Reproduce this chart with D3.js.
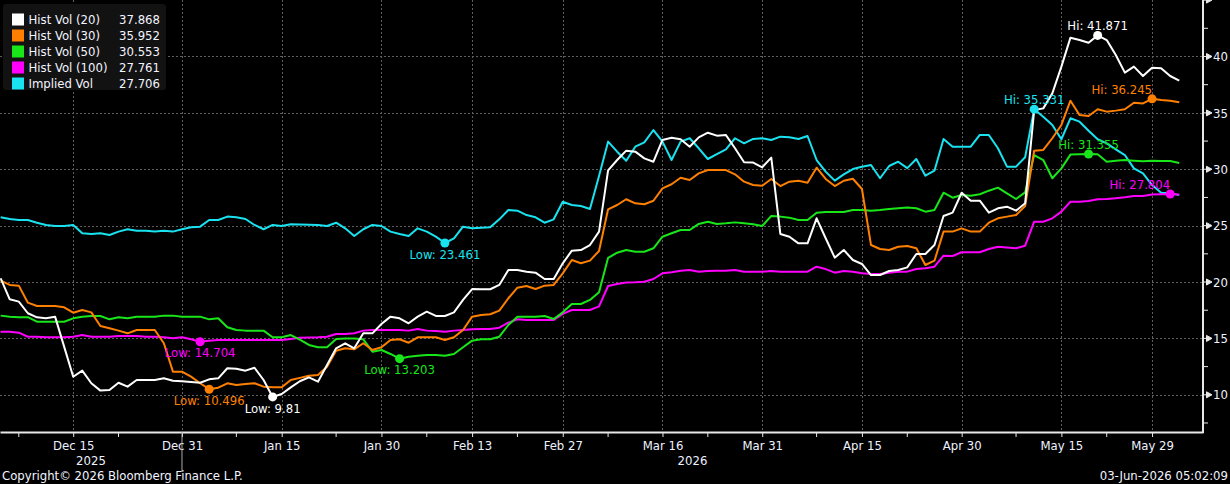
<!DOCTYPE html>
<html>
<head>
<meta charset="utf-8">
<script src="https://cdn.jsdelivr.net/npm/d3@7"></script>
<style>
	html, body { margin: 0; padding: 0; background: #000; }
	svg { display: block; }
	text { font-family: "DejaVu Sans Condensed", "DejaVu Sans", sans-serif; font-size: 13px; }
</style>
</head>
<body>
<svg id="chart" width="1230" height="484"></svg>
<script>
// trading days (weekdays) from 03-Dec-2025 to 03-Jun-2026
const firstDay = new Date(2025, 11, 3);
const dayAfterLast = new Date(2026, 5, 4);

const tickLabels = ["Dec 15", "Dec 31", "Jan 15", "Jan 30", "Feb 13", "Feb 27",
	"Mar 16", "Mar 31", "Apr 15", "Apr 30", "May 15", "May 29"];
const minorTickLabels = ["Dec 05", "Dec 22", "Jan 08", "Jan 23", "Feb 06", "Feb 20",
	"Mar 06", "Mar 23", "Apr 08", "Apr 22", "May 08", "May 22"];
const yTicks = [10, 15, 20, 25, 30, 35, 40, 45];
const yMinorTicks = [7.5, 12.5, 17.5, 22.5, 27.5, 32.5, 37.5, 42.5];

const hv20 = [20.33, 18.47, 18.26, 17.23, 16.87, 16.78, 16.93, 14.27, 11.6, 12.14,
	11.02, 10.37, 10.43, 11.07, 10.72, 11.31, 11.31, 11.31, 11.46, 11.25,
	11.19, 11.13, 11.07, 11.37, 11.46, 12.35, 12.3, 12.14, 12.4, 11.31,
	9.81, 10.07, 10.66, 11.2, 11.55, 11.16, 12.64, 14.12, 14.57, 14.12,
	15.45, 15.45, 16.28, 16.93, 16.78, 16.34, 16.93, 17.37, 16.99, 16.99,
	17.31, 18.41, 19.38, 19.36, 19.36, 19.74, 21.07, 21.07, 20.92, 20.83,
	20.27, 20.27, 21.66, 22.78, 22.83, 23.28, 24.47, 29.9, 30.82, 31.65,
	31.56, 30.97, 30.67, 32.6, 32.8, 32.66, 32.0, 32.83, 33.24, 32.98,
	33.03, 31.86, 30.62, 30.59, 30.17, 31.03, 24.26, 24.02, 23.43, 23.43,
	25.65, 23.88, 22.16, 22.84, 21.95, 21.6, 20.62, 20.62, 20.98, 21.06,
	21.3, 22.49, 22.49, 23.28, 25.86, 26.15, 27.92, 27.21, 27.21, 26.15,
	26.54, 26.68, 26.33, 26.98, 35.26, 35.4, 36.73, 39.1, 41.67, 41.46,
	41.22, 41.871, 41.46, 40.13, 38.57, 39.1, 38.27, 39.0, 38.95, 38.27,
	37.868];

const hv30 = [20.12, 19.74, 19.68, 18.17, 17.87, 17.87, 17.87, 17.76, 17.28, 17.52,
	17.31, 16.1, 15.9, 15.69, 15.45, 15.75, 15.75, 15.75, 14.57, 12.05,
	12.05, 11.61, 11.02, 10.496, 10.63, 11.02, 10.87, 10.96, 11.02, 10.72,
	10.66, 10.66, 11.31, 11.5, 11.68, 11.76, 12.49, 13.91, 14.12, 14.03,
	14.57, 13.97, 14.21, 14.86, 14.92, 14.62, 15.1, 15.1, 15.1, 14.86,
	15.1, 15.75, 16.93, 17.08, 17.14, 17.46, 18.56, 19.5, 19.65, 19.38,
	19.68, 19.74, 20.77, 21.95, 21.66, 21.9, 22.75, 26.45, 26.83, 27.34,
	26.98, 26.9, 27.21, 28.31, 28.67, 29.25, 29.05, 29.64, 29.93, 29.93,
	29.93, 29.55, 28.9, 28.6, 28.54, 29.14, 28.51, 28.9, 28.98, 28.81,
	30.14, 29.14, 28.51, 28.98, 29.16, 28.25, 23.28, 22.93, 22.84, 23.13,
	23.2, 22.99, 21.51, 21.89, 24.47, 24.47, 24.76, 24.47, 24.47, 25.26,
	25.65, 25.8, 25.94, 26.74, 31.65, 31.71, 32.75, 33.93, 36.08, 34.81,
	34.72, 35.32, 35.11, 35.2, 35.32, 35.9, 35.84, 36.245, 36.14, 36.08,
	35.952];

const hv50 = [17.02, 16.93, 16.88, 16.88, 16.48, 16.48, 16.48, 16.48, 16.78, 16.93,
	16.99, 16.99, 16.69, 16.88, 16.78, 16.93, 16.93, 16.93, 17.02, 17.02,
	16.93, 16.93, 16.93, 16.69, 16.78, 15.99, 15.75, 15.69, 15.69, 15.69,
	15.1, 15.1, 15.3, 14.9, 14.42, 14.21, 14.21, 14.95, 15.0, 15.0,
	14.92, 13.82, 13.97, 13.62, 13.203, 13.38, 13.47, 13.53, 13.53, 13.47,
	13.62, 14.21, 14.8, 14.92, 14.92, 15.15, 16.19, 16.93, 16.93, 16.93,
	16.99, 16.72, 17.31, 18.05, 18.05, 18.41, 19.1, 22.15, 22.6, 22.84,
	22.69, 22.69, 22.99, 24.02, 24.32, 24.61, 24.61, 25.15, 25.35, 25.15,
	25.21, 25.29, 25.21, 25.12, 24.97, 25.86, 25.8, 25.71, 25.5, 25.5,
	26.15, 26.21, 26.21, 26.21, 26.39, 26.39, 26.33, 26.39, 26.48, 26.54,
	26.6, 26.54, 26.24, 26.39, 27.92, 27.48, 27.72, 27.66, 27.78, 28.1,
	28.37, 27.87, 27.36, 27.95, 31.26, 30.82, 29.2, 30.08, 31.3, 31.32,
	31.355, 31.33, 30.67, 30.76, 30.82, 30.76, 30.7, 30.76, 30.73, 30.73,
	30.553];

const hv100 = [15.6, 15.6, 15.51, 15.15, 15.15, 15.1, 15.1, 15.1, 15.15, 15.3,
	15.15, 15.15, 15.15, 15.21, 15.21, 15.21, 15.15, 15.15, 15.1, 15.01,
	15.1, 14.92, 14.704, 14.8, 14.86, 14.86, 14.86, 14.86, 14.86, 14.86,
	14.86, 14.86, 14.95, 15.05, 15.07, 15.1, 15.15, 15.39, 15.39, 15.45,
	15.69, 15.75, 15.75, 15.75, 15.75, 15.69, 15.83, 15.69, 15.66, 15.6,
	15.69, 15.75, 15.81, 15.83, 15.83, 15.95, 16.39, 16.69, 16.63, 16.63,
	16.63, 16.63, 17.17, 17.52, 17.52, 17.52, 17.84, 19.65, 19.83, 19.95,
	19.98, 20.03, 20.27, 20.77, 20.86, 21.0, 21.06, 20.92, 20.98, 21.0,
	21.0, 21.06, 20.92, 20.92, 20.92, 20.98, 20.92, 20.92, 20.92, 20.92,
	21.36, 21.15, 20.83, 20.98, 20.92, 20.77, 20.71, 20.71, 20.83, 20.92,
	20.92, 21.16, 21.22, 21.36, 22.34, 22.31, 22.64, 22.64, 22.64, 22.93,
	23.13, 23.07, 22.99, 23.22, 25.35, 25.35, 25.65, 26.24, 27.12, 27.12,
	27.18, 27.34, 27.37, 27.42, 27.51, 27.63, 27.63, 27.76, 27.78, 27.804,
	27.761];

const impliedVol = [25.74, 25.59, 25.5, 25.5, 25.26, 25.06, 24.97, 24.97, 25.06, 24.32,
	24.26, 24.32, 24.17, 24.47, 24.68, 24.55, 24.55, 24.47, 24.55, 24.47,
	24.68, 24.85, 24.91, 25.5, 25.5, 25.8, 25.74, 25.59, 25.06, 24.68,
	25.06, 24.97, 25.12, 25.1, 25.08, 25.06, 24.97, 25.26, 24.76, 24.08,
	24.68, 25.06, 24.97, 24.47, 24.26, 24.08, 24.76, 24.47, 24.02, 23.461,
	23.88, 24.91, 24.76, 24.82, 24.85, 25.56, 26.39, 26.33, 25.94, 25.74,
	25.26, 25.56, 27.12, 26.83, 26.74, 26.48, 29.4, 32.45, 31.56, 30.76,
	32.0, 32.39, 33.48, 32.45, 30.82, 32.45, 32.75, 31.86, 30.91, 31.35,
	31.77, 32.75, 32.3, 32.69, 32.75, 32.6, 32.89, 32.83, 32.69, 32.95,
	30.82, 29.79, 28.99, 29.55, 30.02, 30.23, 30.38, 29.2, 30.29, 30.67,
	30.1, 30.91, 29.43, 29.87, 32.68, 32.0, 32.0, 32.0, 33.04, 33.04,
	31.86, 30.23, 30.23, 31.06, 35.331, 34.66, 33.93, 32.66, 34.52, 34.22,
	33.42, 32.66, 32.3, 31.77, 31.26, 30.08, 29.64, 28.6, 27.92, 27.87,
	27.706];

const seriesNames = ["Hist Vol (20)", "Hist Vol (30)", "Hist Vol (50)", "Hist Vol (100)", "Implied Vol"];
const seriesValues = [hv20, hv30, hv50, hv100, impliedVol];
const seriesColors = ["#ffffff", "#ff8000", "#19e619", "#ff00ff", "#19e3f0"];
// Hi labels that sit left of their marker instead of centered
const hiLabelEnd = ["Hist Vol (30)", "Hist Vol (100)"];

const dates = d3.timeDay.range(firstDay, dayAfterLast).filter(d => d.getDay() % 6 !== 0);
const fmt = d3.timeFormat("%b %d");
const indexOf = label => dates.findIndex(d => fmt(d) === label);

const series = seriesNames.map((name, k) => ({
	name,
	values: seriesValues[k],
	color: seriesColors[k]
}));

const svg = d3.select("#chart");
const W = 1203, H = 432;

svg.append("rect").attr("width", 1230).attr("height", 484).attr("fill", "#000");

const x = d3.scaleLinear().domain([-0.074, 132.62]).range([0, W]);
const y = d3.scaleLinear().domain([6.70, 45.01]).range([H, 0]);

const majorIdx = tickLabels.map(indexOf);
const minorIdx = minorTickLabels.map(indexOf);

// grid
const grid = svg.append("g").attr("class", "grid")
	.attr("stroke", "#5e5e5e")
	.attr("stroke-dasharray", "2,2")
	.attr("stroke-width", 1);

grid.selectAll("line.v")
	.data(majorIdx)
	.enter().append("line")
		.attr("class", "v")
		.attr("x1", d => Math.round(x(d)) + 0.5)
		.attr("x2", d => Math.round(x(d)) + 0.5)
		.attr("y1", 0)
		.attr("y2", H);

grid.selectAll("line.h")
	.data(yTicks.filter(v => v < 45))
	.enter().append("line")
		.attr("class", "h")
		.attr("x1", 0)
		.attr("x2", W)
		.attr("y1", d => Math.round(y(d)) + 0.5)
		.attr("y2", d => Math.round(y(d)) + 0.5);

// lines (drawn from the back: implied vol first)
const line = d3.line()
	.x((d, i) => x(i))
	.y(d => y(d));

svg.append("g").attr("class", "lines")
	.selectAll("path")
	.data(series.slice().reverse())
	.enter().append("path")
		.attr("d", d => line(d.values))
		.attr("fill", "none")
		.attr("stroke", d => d.color)
		.attr("stroke-width", 2)
		.attr("stroke-linejoin", "round");

// hi / low markers
const marks = [];
series.forEach((s) => {
	const lo = d3.minIndex(s.values);
	const hi = d3.maxIndex(s.values);
	marks.push({ s, i: lo, kind: "Low" });
	marks.push({ s, i: hi, kind: "Hi" });
});

const mark = svg.append("g").attr("class", "marks")
	.selectAll("g")
	.data(marks)
	.enter().append("g");

mark.append("circle")
	.attr("cx", d => x(d.i))
	.attr("cy", d => y(d.s.values[d.i]))
	.attr("r", 4.5)
	.attr("fill", d => d.s.color);

mark.append("text")
	.text(d => d.kind + ": " + d.s.values[d.i])
	.attr("x", d => x(d.i))
	.attr("y", d => y(d.s.values[d.i]) + (d.kind === "Hi" ? -10 : 11))
	.attr("dy", "0.36em")
	.attr("text-anchor", d => (d.kind === "Hi" && hiLabelEnd.includes(d.s.name)) ? "end" : "middle")
	.attr("fill", d => d.s.color);

// x axis
const xAxis = d3.axisBottom(x)
	.tickValues(majorIdx)
	.tickSize(5)
	.tickSizeOuter(0)
	.tickFormat(i => fmt(dates[i]));

const gx = svg.append("g")
	.attr("transform", `translate(0,${H})`)
	.call(xAxis);
gx.select(".domain").attr("stroke", "#e8e8e8").attr("stroke-width", 2);
gx.selectAll(".tick line").attr("stroke", "#e8e8e8");
gx.selectAll(".tick text")
	.attr("fill", "#eef2ff")
	.attr("y", 9)
	.attr("dy", "0.71em")
	.style("font-family", null)
	.style("font-size", null)
	.attr("font-family", null)
	.attr("font-size", null);

gx.selectAll("line.minor")
	.data(minorIdx)
	.enter().append("line")
		.attr("class", "minor")
		.attr("x1", d => x(d))
		.attr("x2", d => x(d))
		.attr("y1", 0)
		.attr("y2", 5)
		.attr("stroke", "#e8e8e8");

// year separator + year labels
const lastOf2025 = d3.maxIndex(dates, d => d.getFullYear() === 2025 ? d : null);
svg.append("line")
	.attr("x1", x(lastOf2025))
	.attr("x2", x(lastOf2025))
	.attr("y1", H)
	.attr("y2", H + 40)
	.attr("stroke", "#aaaaaa");

const years = [
	{ label: "2025", x0: 0, x1: x(lastOf2025) },
	{ label: "2026", x0: x(lastOf2025), x1: W }
];
svg.selectAll("text.year")
	.data(years)
	.enter().append("text")
		.attr("class", "year")
		.attr("x", d => (d.x0 + d.x1) / 2)
		.attr("y", H + 33)
		.attr("text-anchor", "middle")
		.attr("fill", "#eef2ff")
		.text(d => d.label);

// right axis
const gy = svg.append("g").attr("transform", `translate(${W},0)`);
gy.append("line")
	.attr("x1", 0).attr("x2", 0)
	.attr("y1", 0).attr("y2", H + 1)
	.attr("stroke", "#e8e8e8")
	.attr("stroke-width", 2);

gy.selectAll("line.minor")
	.data(yMinorTicks)
	.enter().append("line")
		.attr("class", "minor")
		.attr("x1", 0).attr("x2", 5)
		.attr("y1", d => y(d)).attr("y2", d => y(d))
		.attr("stroke", "#e8e8e8");

const yt = gy.selectAll("g.tick")
	.data(yTicks)
	.enter().append("g")
		.attr("class", "tick")
		.attr("transform", d => `translate(0,${y(d)})`);

yt.append("path")
	.attr("d", "M0,0H5M3.5,-3L9,0L3.5,3Z")
	.attr("stroke", "#e8e8e8")
	.attr("fill", "#e8e8e8");

yt.filter(d => d < 45).append("text")
	.attr("x", 10)
	.attr("dy", "0.36em")
	.attr("fill", "#eef2ff")
	.text(d => d);

// legend
const legend = svg.append("g").attr("class", "legend");
legend.append("rect")
	.attr("x", 3).attr("y", 4)
	.attr("width", 163).attr("height", 86)
	.attr("rx", 3)
	.attr("fill", "#121212");

const entry = legend.selectAll("g.entry")
	.data(series)
	.enter().append("g")
		.attr("class", "entry")
		.attr("transform", (d, k) => `translate(0,${19.5 + 16 * k})`);

entry.append("rect")
	.attr("x", 12).attr("y", -6)
	.attr("width", 12).attr("height", 12)
	.attr("fill", d => d.color);

entry.append("text")
	.attr("x", 28.5)
	.attr("dy", "0.36em")
	.attr("fill", "#f2f4ff")
	.text(d => d.name);

entry.append("text")
	.attr("x", 160)
	.attr("dy", "0.36em")
	.attr("text-anchor", "end")
	.attr("fill", "#f2f4ff")
	.text(d => d.values[d.values.length - 1]);

// footer
svg.append("text")
	.attr("x", 2).attr("y", 480)
	.attr("fill", "#f2f4ff")
	.text("Copyright\u00A9 2026 Bloomberg Finance L.P.");

svg.append("text")
	.attr("x", 1228).attr("y", 480)
	.attr("text-anchor", "end")
	.attr("fill", "#f2f4ff")
	.text("03-Jun-2026 05:02:09");
</script>
</body>
</html>
